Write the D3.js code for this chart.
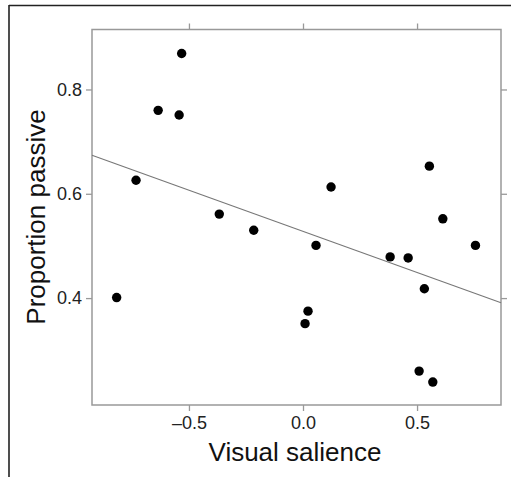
<!DOCTYPE html>
<html><head><meta charset="utf-8">
<script src="https://cdn.jsdelivr.net/npm/d3@7"></script>
<style>body{margin:0;background:#fff}svg{display:block}</style>
</head><body>
<script>
const salience = [-0.532,-0.635,-0.543,-0.732,-0.817,-0.367,-0.216,0.123,0.057,0.554,0.382,0.461,0.532,0.613,0.756,0.022,0.009,0.509,0.569];
const passive  = [0.869,0.760,0.751,0.626,0.401,0.561,0.530,0.613,0.501,0.653,0.479,0.477,0.418,0.552,0.501,0.375,0.351,0.260,0.239];
const fitLine = [[-0.925,0.674],[0.868,0.391]];
const xTicks = [-0.5,0.0,0.5];
const yTicks = [0.4,0.6,0.8];

const W=511,H=477;
const svg=d3.select("body").append("svg").attr("width",W).attr("height",H);
const L=92,R=501,T=29.5,B=405;
const x=d3.scaleLinear().domain([-0.925,0.868]).range([L,R]);
const y=d3.scaleLinear().domain([0.195,0.915]).range([B,T]);

// outer frame
svg.append("line").attr("x1",9).attr("x2",W).attr("y1",5.5).attr("y2",5.5).attr("stroke","#222").attr("stroke-width",1.6);
svg.append("line").attr("x1",9).attr("x2",9).attr("y1",5).attr("y2",H).attr("stroke","#222").attr("stroke-width",1.6);

const axCol="#999";
const fmt=d=>d===0?"0.0":(d<0?"\u2013"+d3.format(".1f")(-d):d3.format(".1f")(d));
function styleAxis(g,show){
  g.select(".domain").remove();
  g.selectAll(".tick line").attr("stroke",axCol).attr("stroke-width",1.3);
  g.selectAll(".tick text").attr("fill","#222").style("font-family","Liberation Sans, Arial, sans-serif").style("font-size","18px");
  if(!show) g.selectAll(".tick text").remove();
}
svg.append("g").attr("transform",`translate(0,${B})`).call(d3.axisBottom(x).tickValues(xTicks).tickFormat(fmt).tickSize(6).tickPadding(5)).call(g=>styleAxis(g,true));
svg.append("g").attr("transform",`translate(0,${T})`).call(d3.axisTop(x).tickValues(xTicks).tickSize(6)).call(g=>styleAxis(g,false));
svg.append("g").attr("transform",`translate(${L},0)`).call(d3.axisLeft(y).tickValues(yTicks).tickFormat(d3.format(".1f")).tickSize(6).tickPadding(4)).call(g=>styleAxis(g,true));
svg.append("g").attr("transform",`translate(${R},0)`).call(d3.axisRight(y).tickValues(yTicks).tickSize(6)).call(g=>styleAxis(g,false));

svg.append("rect").attr("x",L).attr("y",T).attr("width",R-L).attr("height",B-T).attr("fill","none").attr("stroke",axCol).attr("stroke-width",1.5);

svg.append("line").attr("x1",x(fitLine[0][0])).attr("y1",y(fitLine[0][1])).attr("x2",x(fitLine[1][0])).attr("y2",y(fitLine[1][1])).attr("stroke","#777").attr("stroke-width",1.1);

svg.append("g").selectAll("circle").data(salience.map((s,i)=>[s,passive[i]])).join("circle")
  .attr("cx",d=>x(d[0])).attr("cy",d=>y(d[1])).attr("r",4.7).attr("fill","#000");

svg.append("text").attr("x",295).attr("y",461).attr("text-anchor","middle").attr("fill","#111")
  .style("font-family","Liberation Sans, Arial, sans-serif").style("font-size","26px").text("Visual salience");
svg.append("text").attr("transform","translate(45,217) rotate(-90)").attr("text-anchor","middle").attr("fill","#111")
  .style("font-family","Liberation Sans, Arial, sans-serif").style("font-size","26px").text("Proportion passive");
</script>
</body></html>
